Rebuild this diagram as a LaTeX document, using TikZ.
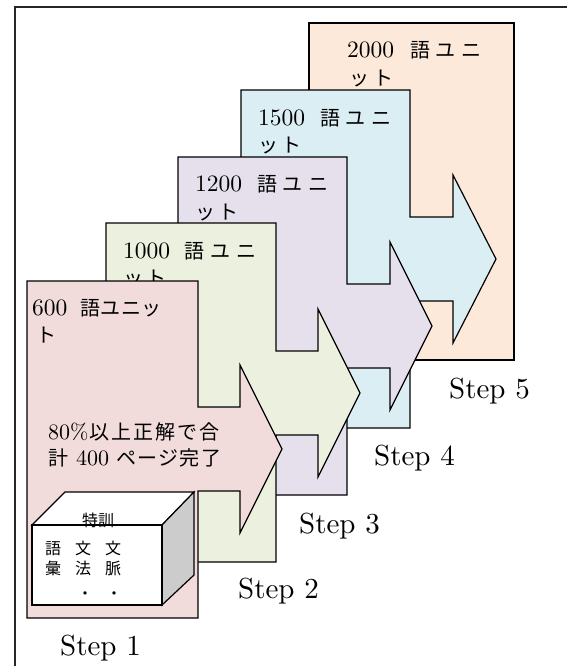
\documentclass[tikz,border=0pt]{standalone}
\usepackage{graphicx}
\usepackage{fontspec}
\newfontfamily\jp{Noto Sans CJK JP}
\definecolor{pinkfill}{HTML}{F2DCDB}
\definecolor{greenfill}{HTML}{EBF1DE}
\definecolor{lavfill}{HTML}{E5E0EC}
\definecolor{bluefill}{HTML}{DBEEF4}
\definecolor{orangefill}{HTML}{FDE9D9}
\definecolor{cubegray}{HTML}{CCCCCC}
\makeatletter
\newcommand\distr[2]{\@tfor\jch:=#2\do{\makebox[#1][l]{\jch}}}
\makeatother
\newcommand\lmten[2]{\scalebox{#1}{\fontsize{10}{12}\selectfont #2}}
\tikzset{
  stepshape/.style={draw=black, line width=1.2pt, line join=miter},
  numtxt/.style={anchor=base west, inner sep=0pt},
  jptxt/.style={anchor=base west, inner sep=0pt, font=\jp\fontsize{20}{20}\selectfont},
  midjp/.style={anchor=base west, inner sep=0pt, font=\jp\fontsize{20}{20}\selectfont},
  cubetxt/.style={anchor=base west, inner sep=0pt, font=\jp\fontsize{16}{16}\selectfont},
  steplbl/.style={anchor=base west, inner sep=0pt},
}
\begin{document}
\begin{tikzpicture}[x=1pt,y=-1pt]
\useasboundingbox (0,0) rectangle (567,666);
% frame
\draw[line width=1.5pt, black!85] (15,666) -- (15,7) -- (567,7);

% Step 5 (orange)
\filldraw[stepshape, fill=orangefill] (309,23) rectangle (514,360);
\node[numtxt] (o1) at (347,58) {\lmten{2.35}{2000}};
\node[jptxt] (o2) at (410,58) {\distr{25.5pt}{語ユニ}};
\node[jptxt] (o3) at (349,86) {\distr{24pt}{ット}};

% Step 4 (blue)
\filldraw[stepshape, fill=bluefill] (241,90) -- (410,90) -- (410,217) -- (453,217) -- (453,175) -- (496,259) -- (453,343) -- (453,301) -- (410,301) -- (410,428) -- (241,428) -- cycle;
\node[numtxt] (b1) at (258,125) {\lmten{2.35}{1500}};
\node[jptxt] (b2) at (320,125) {\distr{25.5pt}{語ユニ}};
\node[jptxt] (b3) at (258,152) {\distr{23pt}{ット}};

% Step 3 (lavender)
\filldraw[stepshape, fill=lavfill] (178,157) -- (347,157) -- (347,284) -- (390,284) -- (390,242) -- (432,326) -- (390,410) -- (390,368) -- (347,368) -- (347,495) -- (178,495) -- cycle;
\node[numtxt] (l1) at (195,191.5) {\lmten{2.35}{1200}};
\node[jptxt] (l2) at (257,191.5) {\distr{25.5pt}{語ユニ}};
\node[jptxt] (l3) at (195,219) {\distr{23pt}{ット}};

% Step 2 (green)
\filldraw[stepshape, fill=greenfill] (106,223) -- (276,223) -- (276,351) -- (318,351) -- (318,309) -- (360,393) -- (318,477) -- (318,435) -- (276,435) -- (276,562) -- (106,562) -- cycle;
\node[numtxt] (g1) at (123,258) {\lmten{2.35}{1000}};
\node[jptxt] (g2) at (184,258) {\distr{26pt}{語ユニ}};
\node[jptxt] (g3) at (123,285) {\distr{23pt}{ット}};

% Step 1 (pink)
\filldraw[stepshape, fill=pinkfill] (27,281) -- (198,281) -- (198,407) -- (240,407) -- (240,365) -- (282,449) -- (240,533) -- (240,491) -- (198,491) -- (198,618) -- (27,618) -- cycle;
\node[numtxt] (p1) at (32,315) {\lmten{2.35}{600}};
\node[jptxt] (p2) at (80,315) {\distr{20.5pt}{語ユニッ}};
\node[jptxt] (p3) at (36,342) {ト};

% middle text
\node[numtxt] (m1) at (48,439) {\lmten{2.2}{80\%}};
\node[midjp] (m2) at (89,439) {\distr{22pt}{以上正解で合}};
\node[midjp] (m3) at (48,465) {計};
\node[numtxt] (m4) at (76,465) {\lmten{2.2}{400}};
\node[midjp] (m5) at (116,465) {\distr{21.2pt}{ページ完了}};

% cube
\filldraw[stepshape, fill=white] (32,525) -- (65,492) -- (194,492) -- (162,525) -- cycle;
\filldraw[stepshape, fill=cubegray] (162,525) -- (194,492) -- (194,575) -- (162,605) -- cycle;
\filldraw[stepshape, fill=white] (32,525) rectangle (162,605);
\node[cubetxt] (c0) at (82,526) {特訓};
\node[cubetxt] (c1) at (45,554) {\distr{30pt}{語文文}};
\node[cubetxt] (c2) at (45,574) {\distr{30pt}{彙法脈}};
\node[cubetxt] (c3) at (77,599) {\distr{29pt}{・・}};

% step labels
\node[steplbl] (s1) at (60,655) {\lmten{2.9}{Step 1}};
\node[steplbl] (s2) at (238,598) {\lmten{2.9}{Step 2}};
\node[steplbl] (s3) at (299,533) {\lmten{2.9}{Step 3}};
\node[steplbl] (s4) at (374,465) {\lmten{2.9}{Step 4}};
\node[steplbl] (s5) at (449,398) {\lmten{2.9}{Step 5}};
\end{tikzpicture}
\end{document}
